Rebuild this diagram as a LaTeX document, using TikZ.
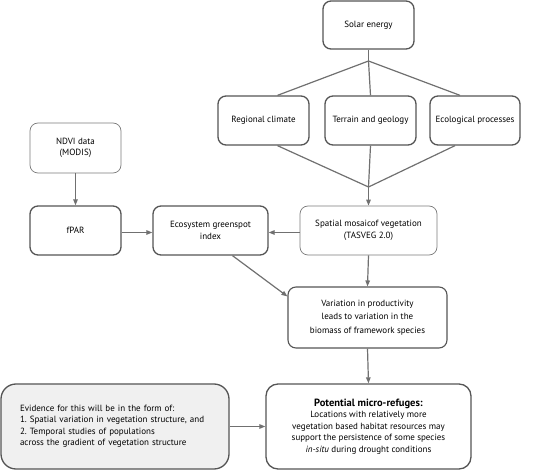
\documentclass[tikz,border=0pt]{standalone}
\usepackage{fontspec}
\setmainfont{PT Sans}
\frenchspacing
\usetikzlibrary{arrows.meta}
\definecolor{boxline}{HTML}{555555}
\definecolor{thinline}{HTML}{7A7A7A}
\definecolor{arrowgray}{HTML}{707070}
\definecolor{evidfill}{HTML}{F0F0F0}
\begin{document}
\begin{tikzpicture}[x=1pt,y=-1pt,
    font=\fontsize{9}{11.5}\selectfont,
    box/.style={draw=boxline,line width=1.3pt,rounded corners=8pt,align=center,inner sep=0pt},
    lightbox/.style={box,draw=thinline,line width=0.7pt},
    link/.style={draw=arrowgray,line width=1.2pt},
    arr/.style={link,-{Triangle[length=6pt,width=4.5pt]}}]
                \useasboundingbox (0,0) rectangle (560,470);

                % top part
                \node[box,minimum width=91pt,minimum height=48pt] (solar) at (368.5,25) {Solar energy};
                \node[box,minimum width=91pt,minimum height=49pt] (rclim) at (263.5,120.5) {Regional climate};
                \node[box,minimum width=91pt,minimum height=49pt] (terr) at (370.5,120.5) {Terrain and geology};
                \node[box,minimum width=90pt,minimum height=49pt] (ecol) at (475,120.5) {Ecological processes};
                \coordinate (split) at (368.5,61);
                \coordinate (join) at (368.5,187);

                % middle row
                \node[lightbox,minimum width=91pt,minimum height=50pt] (ndvi) at (75.5,148) {NDVI data\\(MODIS)};
                \node[box,minimum width=91pt,minimum height=49pt] (fpar) at (75.5,230.5) {fPAR};
                \node[box,minimum width=115pt,minimum height=49pt] (green) at (210.5,230.5) {Ecosystem greenspot\\index};
                \node[lightbox,minimum width=137pt,minimum height=49pt] (mosaic) at (368.5,230.5) {Spatial mosaicof vegetation\\(TASVEG 2.0)};
                \node[box,line width=1.1pt,minimum width=159pt,minimum height=61pt] (prod) at (367.5,317.5)
                    {Variation in productivity\\[2pt]leads to variation in the\\[2pt]biomass of framework species};

                % bottom row
                \node[box,rounded corners=12pt,minimum width=205pt,minimum height=85pt] (refuge) at (368.5,426.5)
                    {{\fontsize{10.5}{12}\selectfont\bfseries Potential micro-refuges:}\\
                     Locations with relatively more\\vegetation based habitat resources may\\
                     support the persistence of some species\\\textit{in-situ} during drought conditions};
                \node[box,fill=evidfill,rounded corners=15pt,minimum width=228pt,minimum height=85pt,
                      align=left,text width=190pt] (evid) at (115,426.5)
                    {Evidence for this will be in the form of:\\1. Spatial variation in vegetation structure, and\\
                     2. Temporal studies of populations\\across the gradient of vegetation structure};

                % connectors
                \draw[link] (solar.south) -- (split);
                \draw[link] (split) -- ([xshift=14pt]rclim.north);
                \draw[link] (split) -- (terr.north);
                \draw[link] (split) -- ([xshift=-15pt]ecol.north);
                \draw[link] ([xshift=14pt]rclim.south) -- (join);
                \draw[link] (terr.south) -- (join);
                \draw[link] ([xshift=-20pt]ecol.south) -- (join);
                \draw[arr] (join) -- (mosaic.north);
                \draw[arr] (ndvi.south) -- (fpar.north);
                \draw[arr] ([yshift=-2pt]fpar.east) -- ([yshift=-2pt]green.west);
                \draw[arr] ([yshift=-2pt]mosaic.west) -- ([yshift=-2pt]green.east);
                \draw[arr] ([xshift=22pt]green.south) -- ([yshift=-10pt]prod.north west);
                \draw[arr] (mosaic.south) -- (prod.north);
                \draw[arr] (prod.south) -- (refuge.north);
                \draw[arr] (evid.east) -- (refuge.west);

            \end{tikzpicture}
\end{document}
